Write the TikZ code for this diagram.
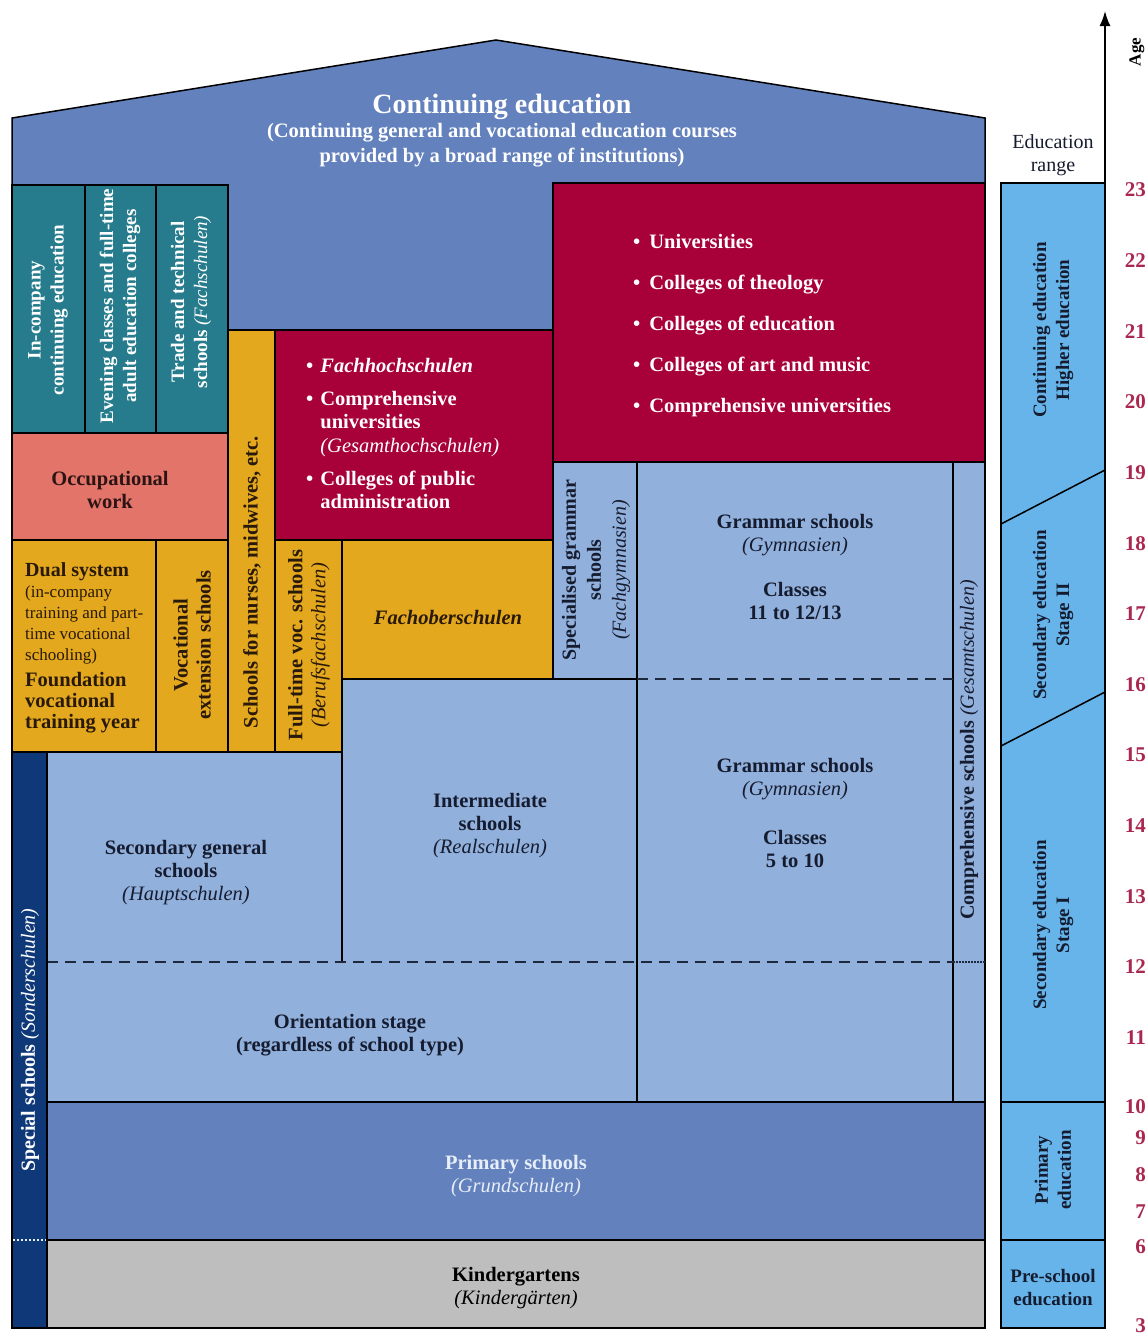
\documentclass[tikz,border=0pt]{standalone}
\usepackage{fontspec}
\setmainfont{Liberation Serif}
\usetikzlibrary{arrows.meta}
\definecolor{cblue}{RGB}{99,129,189}
\definecolor{tealc}{RGB}{38,124,140}
\definecolor{salmon}{RGB}{226,116,106}
\definecolor{ochre}{RGB}{227,168,30}
\definecolor{crim}{RGB}{168,0,56}
\definecolor{lblue}{RGB}{145,176,219}
\definecolor{navy}{RGB}{14,56,120}
\definecolor{kgray}{RGB}{190,190,190}
\definecolor{rblue}{RGB}{102,180,234}
\definecolor{agered}{RGB}{170,40,80}
\definecolor{dtext}{RGB}{22,28,48}
\definecolor{ytext}{RGB}{40,25,10}
\definecolor{otext}{RGB}{45,20,20}
\definecolor{ptext}{RGB}{232,238,248}
\definecolor{dashc}{RGB}{30,40,60}
\newcommand{\fmain}{\fontsize{20.5}{23}\selectfont}
\newcommand{\itpart}[1]{{\mdseries\itshape #1}}
\tikzset{
  box/.style={draw=black, line width=1.5pt},
  lbl/.style={align=center, inner sep=0pt, font=\fmain\bfseries, text=dtext},
  vlbl/.style={lbl, rotate=90},
  tlbl/.style={vlbl, text=white, font=\fontsize{19}{23}\selectfont\bfseries},
  rng/.style={align=center, inner sep=0pt, font=\fontsize{19}{23}\selectfont\bfseries, text=dtext, rotate=90},
  agenum/.style={font=\fontsize{21}{22}\selectfont\bfseries, text=agered, anchor=east, inner sep=0pt},
  dashln/.style={draw=dashc, line width=1.8pt, dash pattern=on 11pt off 7pt},
}
\begin{document}
\begin{tikzpicture}[x=1pt,y=-1pt]
\fill[white] (0,0) rectangle (1148,1339);
\useasboundingbox (0,0) rectangle (1148,1339);

% house body / continuing education
\draw[box, fill=cblue] (12,1328) -- (12,118) -- (496,40) -- (985,118) -- (985,1328) -- cycle;

% teal boxes
\draw[box, fill=tealc] (12,185) rectangle (85,433);
\draw[box, fill=tealc] (85,185) rectangle (156,433);
\draw[box, fill=tealc] (156,185) rectangle (228,433);
% occupational work
\draw[box, fill=salmon] (12,433) rectangle (228,540);
% nurses
\draw[box, fill=ochre] (228,330) rectangle (275,752);
% red boxes
\draw[box, fill=crim] (275,330) rectangle (553,540);
\draw[box, fill=crim] (553,183) rectangle (985,462);
% yellow boxes
\draw[box, fill=ochre] (12,540) rectangle (156,752);
\draw[box, fill=ochre] (156,540) rectangle (228,752);
\draw[box, fill=ochre] (275,540) rectangle (342,752);
\draw[box, fill=ochre] (342,540) rectangle (553,679);
% light blue area
\draw[box, fill=lblue] (553,462) rectangle (637,679);
\draw[box, fill=lblue] (637,462) rectangle (953,1102);
\draw[box, fill=lblue] (47,752) -- (342,752) -- (342,679) -- (637,679) -- (637,1102) -- (47,1102) -- cycle;
\draw[box] (342,752) -- (342,962);
\draw[box, fill=lblue] (953,462) rectangle (985,1102);
\draw[dashln] (637,679) -- (953,679);
\draw[dashln] (47,962) -- (953,962);
\draw[draw=dashc, line width=1.5pt, dash pattern=on 1.5pt off 1.5pt] (953,962) -- (985,962);
% special schools, primary, kindergarten
\draw[box, fill=navy] (12,752) rectangle (47,1328);
\draw[box, fill=cblue] (47,1102) rectangle (985,1240);
\draw[box, fill=kgray] (47,1240) rectangle (985,1328);
\draw[draw=ptext, line width=1.5pt, dash pattern=on 2pt off 2pt] (13,1240) -- (46,1240);

% texts
\node[align=center, inner sep=0pt, text=white, font=\fontsize{28}{30}\selectfont\bfseries] (ce) at (502,107) {Continuing education};
\node[align=center, inner sep=0pt, text=white, font=\fontsize{20.5}{25}\selectfont\bfseries] (ces) at (502,145) {(Continuing general and vocational education courses\\provided by a broad range of institutions)};

\node[tlbl] (t1) at (48,310) {In-company\\continuing education};
\node[tlbl] (t2) at (120,306) {Evening classes and full-time\\adult education colleges};
\node[tlbl] (t3) at (191,302) {Trade and technical\\schools \itpart{(Fachschulen)}};

\node[lbl, text=otext] (occ) at (110,490) {Occupational\\work};
\node[vlbl, text=ytext] (nurse) at (252,582) {Schools for nurses, midwives, etc.};

\node[anchor=base west, inner sep=0pt, text=white, font=\fontsize{20.5}{23.5}\selectfont\bfseries] (fh) at (306,372)
 {\begin{tabular}[t]{@{}l@{\hspace{7pt}}l@{}}
 \textbullet & \textit{Fachhochschulen}\\[9.5pt]
 \textbullet & Comprehensive\\
  & universities\\
  & \itpart{(Gesamthochschulen)}\\[9.5pt]
 \textbullet & Colleges of public\\
  & administration
 \end{tabular}};

\node[anchor=base west, inner sep=0pt, text=white, font=\fontsize{20.5}{24}\selectfont\bfseries] (uni) at (633,248)
 {\begin{tabular}[t]{@{}l@{\hspace{9pt}}l@{}}
 \textbullet & Universities\\[17pt]
 \textbullet & Colleges of theology\\[17pt]
 \textbullet & Colleges of education\\[17pt]
 \textbullet & Colleges of art and music\\[17pt]
 \textbullet & Comprehensive universities
 \end{tabular}};

\node[anchor=base west, inner sep=0pt, text=ytext, font=\fontsize{17}{21}\selectfont] (dual) at (25,576)
 {\begin{tabular}[t]{@{}l@{}}
 {\fontsize{20}{21}\selectfont\bfseries Dual system}\\
 (in-company\\
 training and part-\\
 time vocational\\
 schooling)\\[5pt]
 {\fontsize{20.5}{21}\selectfont\bfseries Foundation}\\
 {\fontsize{20.5}{21}\selectfont\bfseries vocational}\\
 {\fontsize{20.5}{21}\selectfont\bfseries training year}
 \end{tabular}};

\node[vlbl, text=ytext] (vext) at (192,645) {Vocational\\extension schools};
\node[vlbl, text=ytext] (ftv) at (309,645) {Full-time voc. schools\\\itpart{(Berufsfachschulen)}};
\node[lbl, text=ytext] (fos) at (448,617) {\textit{Fachoberschulen}};

\node[vlbl, font=\fontsize{20}{25}\selectfont\bfseries] (spg) at (596,570) {Specialised grammar\\schools\\\itpart{(Fachgymnasien)}};
\node[lbl] (gu) at (795,567) {Grammar schools\\\itpart{(Gymnasien)}\\[22pt]Classes\\11 to 12/13};
\node[lbl] (gl) at (795,813) {Grammar schools\\\itpart{(Gymnasien)}\\[26pt]Classes\\5 to 10};
\node[lbl] (inter) at (490,826) {Intermediate\\schools\\\itpart{(Realschulen)}};
\node[lbl] (sec) at (186,873) {Secondary general\\schools\\\itpart{(Hauptschulen)}};
\node[lbl] (orient) at (350,1035) {Orientation stage\\(regardless of school type)};
\node[vlbl, font=\fontsize{20}{23}\selectfont\bfseries] (comp) at (969,750) {Comprehensive schools \itpart{(Gesamtschulen)}};
\node[vlbl, text=white, font=\fontsize{20}{23}\selectfont\bfseries] (spec) at (30,1040) {Special schools \itpart{(Sonderschulen)}};
\node[lbl, text=ptext] (prim) at (516,1176) {Primary schools\\\itpart{(Grundschulen)}};
\node[lbl, text=black] (kg) at (516,1288) {Kindergartens\\\itpart{(Kindergärten)}};

% education range column
\node[align=center, inner sep=0pt, text=dtext, font=\fontsize{20}{23}\selectfont] (er) at (1053,155) {Education\\range};
\draw[box, fill=rblue] (1001,183) rectangle (1105,1328);
\draw[box] (1001,524) -- (1105,470);
\draw[box] (1001,746) -- (1105,692);
\draw[box] (1001,1102) -- (1105,1102);
\draw[box] (1001,1240) -- (1105,1240);
\node[rng] (r1) at (1053,330) {Continuing education\\Higher education};
\node[rng] (r2) at (1053,615) {Secondary education\\Stage II};
\node[rng] (r3) at (1053,925) {Secondary education\\Stage I};
\node[rng] (r4) at (1053,1170) {Primary\\education};
\node[align=center, inner sep=0pt, font=\fontsize{19}{23}\selectfont\bfseries, text=dtext] (r5) at (1053,1288) {Pre-school\\education};

% age axis
\coordinate (axb) at (1105,183);
\coordinate (axt) at (1105,11);
\draw[line width=1.8pt, -{Latex[length=15pt,width=11pt]}] (axb) -- (axt);
\node[rotate=90, inner sep=0pt, font=\fontsize{17}{18}\selectfont\bfseries, text=black] (agelbl) at (1137,52) {Age};

\foreach \a/\y in {23/190,22/261,21/332,20/402,19/473,18/544,17/614,16/685,15/755,14/826,13/897,12/967,11/1038,10/1107,9/1138,8/1175,7/1212,6/1247,3/1326}
  \node[agenum] (age\a) at (1146,\y) {\a};
\end{tikzpicture}
\end{document}
